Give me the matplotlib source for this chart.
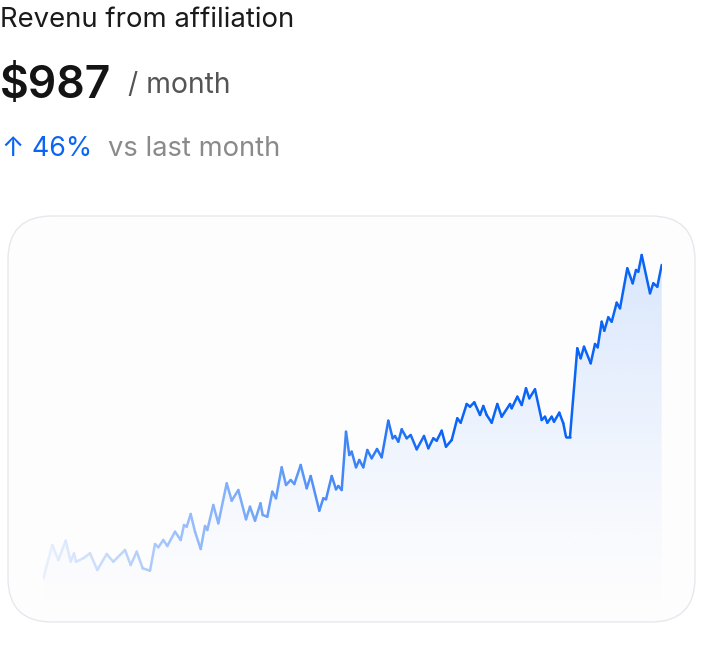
import numpy as np
import matplotlib
matplotlib.use("Agg")
import matplotlib.pyplot as plt
from matplotlib.collections import LineCollection
from matplotlib.patches import FancyBboxPatch, Polygon

plt.rcParams['font.family'] = ['Inter', 'DejaVu Sans']

# --- datos ---
titulo = "Revenu from affiliation"
valor = "$987"
periodo = "/ month"
cambio = "\u2191 46%"
comparacion = "vs last month"

dias = [0.3, 9.3, 15.3, 22.7, 27.7, 31, 33, 40.3, 47, 54.3, 63.7, 70.3, 82, 87.7, 93.7,
        99.7, 107, 112, 115.3, 120.3, 124.3, 132, 137.7, 141, 143.7, 147.7, 152, 157.7,
        162, 164.3, 170.3, 175.3, 183.7, 188.7, 195.3, 203, 207, 212, 217.5, 219.7,
        224.3, 229.3, 233, 238.7, 243, 247.7, 251.3, 257.7, 263.7, 267.7, 276.3, 280.3,
        283, 288.7, 293, 295.3, 298.7, 303, 306.3, 308.7, 313, 316.3, 320.3, 324.3,
        328.7, 334, 338.7, 345.3, 349.7, 352, 355.3, 358.7, 363.7, 367.7, 373.7, 381,
        385.3, 390.3, 393.7, 398.7, 403, 408.7, 414.3, 417.7, 423.7, 427, 431.3, 437,
        440.3, 443.7, 448.7, 454.3, 458.7, 467, 468.7, 474.3, 478.7, 483, 486.3, 492,
        498.7, 502, 504.3, 508.7, 511, 516.3, 520.3, 523, 527, 534.3, 537.7, 541, 547.7,
        552, 554.7, 558.7, 561.3, 565.3, 568.7, 573.7, 577, 584.3, 589.7, 593, 595.3,
        598.7, 607, 610.3, 614.3, 618.7]

ingresos = [43.7, 77, 62, 81.3, 60.3, 68.7, 60.3, 63.7, 68.7, 52, 68, 60.3, 72, 57, 70.3,
            53.7, 51.3, 78, 74.7, 82, 76, 90.3, 82, 97, 95.3, 108, 90.3, 73, 96, 92, 117,
            98.7, 138.7, 121.3, 132, 102.7, 115.3, 101.3, 118.7, 107, 105.3, 130.3, 123.7,
            154.7, 137, 142, 138, 157, 133.7, 146, 111.3, 123.7, 122.7, 146, 132.7, 136,
            132, 190.3, 167, 170.3, 154.7, 162, 154.7, 172, 163.7, 173, 164.7, 201.3,
            183.7, 186, 180.3, 192.7, 183.7, 187, 172.7, 186, 173.7, 183.7, 181.3, 191.3,
            175.3, 182, 203.7, 199.3, 218, 215.3, 219.7, 207, 216, 207, 199.3, 218, 205.3,
            218, 213.7, 225.3, 217, 233.7, 223.7, 232.7, 202, 205.3, 199.3, 205.3, 200.3,
            209.3, 198.7, 185.3, 185.3, 273.7, 263.7, 275.3, 258.7, 278, 274.7, 300.3,
            291.3, 304.7, 300.3, 319.3, 313.7, 353.7, 338.7, 352, 350.3, 367, 328.7,
            338.7, 335.3, 357]

assert len(dias) == len(ingresos), (len(dias), len(ingresos))

# --- colores ---
AZUL = np.array([10, 100, 245]) / 255
FONDO = np.array([253, 253, 254]) / 255

W, H = 703, 668
fig = plt.figure(figsize=(W / 100, H / 100), dpi=100)
fig.patch.set_facecolor('white')

# capa de fondo en pixeles para la tarjeta
fondo = fig.add_axes([0, 0, 1, 1])
fondo.set_xlim(0, W)
fondo.set_ylim(H, 0)
fondo.axis('off')
tarjeta = FancyBboxPatch((8, 216), 687, 406, boxstyle="round,pad=0,rounding_size=44",
                         facecolor='#fdfdfe', edgecolor='#e7e8ee', linewidth=1.0)
fondo.add_patch(tarjeta)

# textos
fig.text(0 / W, 1 - 20 / H, titulo, fontsize=19.8, color='#1a1a1a', va='center', ha='left')
fig.text(0 / W, 1 - 86 / H, valor, fontsize=32, color='#141414', va='center', ha='left',
         fontweight='semibold')
fig.text(128 / W, 1 - 85 / H, periodo, fontsize=20.4, color='#555555', va='center', ha='left')
fig.text(2 / W, 1 - 149 / H, cambio, fontsize=19.3, color='#0a64f5', va='center', ha='left')
fig.text(108 / W, 1 - 149 / H, comparacion, fontsize=19.7, color='#8a8a8a', va='center', ha='left')

# --- grafico ---
ax = fig.add_axes([43 / W, (H - 622) / H, 619 / W, 406 / H])
ax.set_xlim(0, 619)
ax.set_ylim(0, 406)
ax.axis('off')
ax.patch.set_alpha(0)

x = np.array(dias)
y = np.array(ingresos)

# relleno con degradado vertical
ytop = y.max()
grad = np.linspace(1, 0, 256) ** 1.3
img = np.zeros((256, 1, 4))
img[..., :3] = AZUL
img[..., 3] = (0.15 * grad)[:, None]
poly = Polygon(np.column_stack([np.r_[x[0], x, x[-1]], np.r_[0, y, 0]]),
               closed=True, transform=ax.transData, facecolor='none', edgecolor='none')
ax.add_patch(poly)
im = ax.imshow(img, aspect='auto', extent=(x[0], x[-1], 0, ytop), origin='upper',
               interpolation='bilinear', zorder=1)
im.set_clip_path(poly)

# linea con degradado horizontal
puntos = np.column_stack([x, y]).reshape(-1, 1, 2)
segmentos = np.concatenate([puntos[:-1], puntos[1:]], axis=1)
xm = (x[:-1] + x[1:]) / 2
mezcla = np.clip(0.08 + 0.92 * xm / 400, 0, 1)
colores = FONDO[None, :] * (1 - mezcla[:, None]) + AZUL[None, :] * mezcla[:, None]
lc = LineCollection(segmentos, colors=colores, linewidths=1.8, capstyle='round',
                    joinstyle='round', zorder=3)
ax.add_collection(lc)

plt.savefig('out.png', dpi=100, facecolor='white')
